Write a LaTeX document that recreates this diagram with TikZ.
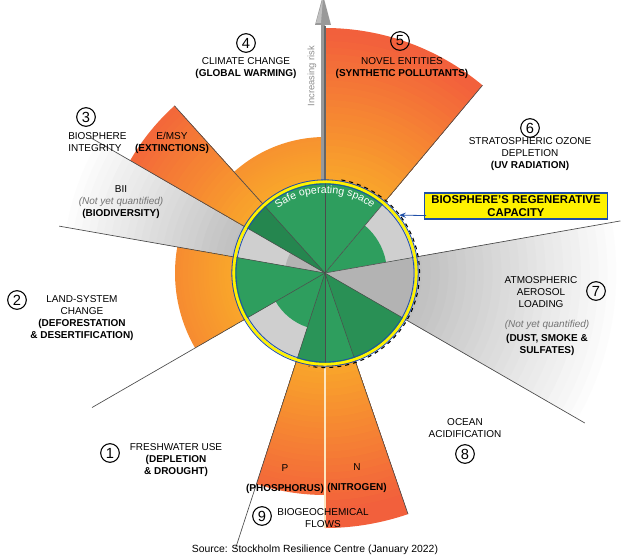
\documentclass[tikz,border=0pt]{standalone}
\usepackage{fontspec}
\setmainfont{Liberation Sans}
\usetikzlibrary{decorations.text,arrows.meta}
\definecolor{oA}{HTML}{F9A82A}
\definecolor{oB}{HTML}{F2603C}
\definecolor{gA}{HTML}{BDBDBD}
\definecolor{grn}{HTML}{2E9E5E}
\definecolor{dgrn}{HTML}{25864F}
\definecolor{lgr}{HTML}{CFCFCF}
\definecolor{mgr}{HTML}{B3B3B3}
\definecolor{bxb}{HTML}{1F4FA8}
\newcommand\orwedge[3]{% a b R
  \foreach \i in {0,...,24}{
    \pgfmathsetmacro\myR{#3-\i*(#3-88)/24}
    \pgfmathtruncatemacro\myT{min(100,max(0,(\myR-90)/150*100))}
    \colorlet{tmpc}{oB!\myT!oA}
    \fill[tmpc] (0,0) -- (#1:\myR) arc[start angle=#1,end angle=#2,radius=\myR] -- cycle;}}
\newcommand\grwedge[3]{%
  \foreach \i in {0,...,24}{
    \pgfmathsetmacro\myR{#3-\i*(#3-88)/24}
    \pgfmathtruncatemacro\myT{min(100,max(0,(\myR-90)/(#3-90)*100))}
    \colorlet{tmpc}{white!\myT!gA}
    \fill[tmpc] (0,0) -- (#1:\myR) arc[start angle=#1,end angle=#2,radius=\myR] -- cycle;}}
\newcommand\inwedge[4]{\fill[#4] (0,0) -- (#1:#3) arc[start angle=#1,end angle=#2,radius=#3] -- cycle;}
\tikzset{
  lab/.style={font=\fontsize{7.5}{9}\selectfont, align=center, inner sep=0pt},
  num/.style={circle, draw, thick, inner sep=0.6pt, minimum size=14pt, font=\fontsize{11}{11}\selectfont},
  sect/.style={draw=black!70, line width=0.5pt},
}
\begin{document}
\begin{tikzpicture}[x=0.75pt,y=0.75pt]
\useasboundingbox (0,0) rectangle (630,558);
\begin{scope}[shift={(325,285)}]
  \grwedge{330}{370}{300}
  \grwedge{150}{170}{270}
  \orwedge{50}{90}{245}
  \orwedge{90}{132}{136}
  \orwedge{132}{150}{225}
  \orwedge{252}{270}{222}
  \orwedge{270}{289}{255}
  \begin{scope}
    \clip (170:160) arc[start angle=170,end angle=210,radius=160] -- (210:88) arc[start angle=210,end angle=170,radius=88] -- cycle;
    \orwedge{170}{210}{150}
  \end{scope}
  \foreach \a/\r in {50/245,132/225,150/270,170/270,210/269,252/290,289/255,330/300,10/300}
    \draw[sect] (0,0) -- (\a:\r);
  \draw[white!70!oA, line width=0.8pt] (0,-90) -- (0,-255);
  \fill[black!40] (-4,0) -- (-4,248) -- (-10,248) -- (-2,278) -- (6,248) -- (0,248) -- (0,0) -- cycle;
  \fill[black!25] (-4,250) -- (-9,250) -- (-2,275) -- cycle;
  \draw[black!60, line width=1pt] (0,0) -- (0,247);
  \node[rotate=90, font=\fontsize{7}{8}\selectfont, text=black!45, inner sep=0pt] (ir) at (-13,197) {Increasing risk};
  \fill[grn] (0,0) circle (90);
  \inwedge{10}{50}{90}{lgr}
  \inwedge{10}{50}{62}{grn}
  \inwedge{330}{370}{90}{mgr}
  \inwedge{210}{252}{90}{lgr}
  \inwedge{210}{252}{57}{grn}
  \inwedge{150}{170}{90}{lgr}
  \inwedge{150}{170}{40}{mgr}
  \inwedge{132}{150}{90}{dgrn}
  \inwedge{90}{132}{90}{grn}
  \inwedge{289}{330}{90}{dgrn!60!grn}
  \inwedge{270}{289}{90}{grn}
  \inwedge{252}{270}{90}{dgrn!40!grn}
  \inwedge{170}{210}{90}{grn}
  \foreach \a in {10,50,90,132,150,170,210,252,270,289,330}
    \draw[black!70, line width=0.4pt] (0,0) -- (\a:90);
  \path[decorate, decoration={text along path, text align=center,
     text={|\fontsize{8}{8}\selectfont\color{white}|Safe operating space}}]
     (130:80) arc[start angle=130,end angle=50,radius=80];
  \draw[dashed, line width=0.8pt] (80:94.5) arc[start angle=80,end angle=-100,radius=94.5];
  \draw[bxb, line width=0.6pt] (0,0) circle (89);
  \draw[yellow, line width=2pt] (0,0) circle (91.3);
  \draw[bxb, line width=0.6pt] (0,0) circle (93.2);
  \coordinate (ring) at (38:94);
\end{scope}
\node[num] (n4) at (246,515) {4};
\node[lab] (t4) at (246,490) {CLIMATE CHANGE\\\textbf{(GLOBAL WARMING)}};
\node[num] (n5) at (400,517) {5};
\node[lab] (t5) at (402,490) {NOVEL ENTITIES\\\textbf{(SYNTHETIC POLLUTANTS)}};
\node[num] (n3) at (86,441) {3};
\node[lab, align=left, anchor=west] (t3) at (68,416) {BIOSPHERE\\INTEGRITY};
\node[lab] (t3b) at (172,415) {E/MSY\\\textbf{(EXTINCTIONS)}};
\node[num] (n6) at (530,430) {6};
\node[lab] (t6) at (530,404) {STRATOSPHERIC OZONE\\DEPLETION\\\textbf{(UV RADIATION)}};
\node[lab] (bii) at (121,356) {BII\\\textit{\color{black!55}(Not yet quantified)}\\\textbf{(BIODIVERSITY)}};
\node[draw=bxb, fill=yellow, line width=0.8pt, font=\fontsize{8.5}{9.5}\selectfont\bfseries, align=center, minimum width=137pt, inner sep=2pt] (box) at (516,352) {BIOSPHERE'S REGENERATIVE\\CAPACITY};
\draw[-{Stealth[length=5pt]}, bxb, line width=0.6pt] ([shift={(2,4)}]box.south west) -- (ring);
\node[num] (n2) at (17,258) {2};
\node[lab] (t2) at (82,240) {LAND-SYSTEM\\CHANGE\\\textbf{(DEFORESTATION}\\\textbf{\& DESERTIFICATION)}};
\node[num] (n7) at (596,267) {7};
\node[lab] (t7) at (541,266) {ATMOSPHERIC\\AEROSOL\\LOADING};
\node[lab] (t7b) at (547,220) {\textit{\color{black!55}(Not yet quantified)}\\[2pt]\textbf{(DUST, SMOKE \&}\\\textbf{SULFATES)}};
\node[lab] (t8) at (465,130) {OCEAN\\ACIDIFICATION};
\node[num] (n8) at (465,104) {8};
\node[num] (n1) at (110,105) {1};
\node[lab] (t1) at (176,98) {FRESHWATER USE\\\textbf{(DEPLETION}\\\textbf{\& DROUGHT)}};
\node[lab] (tp) at (285,79) {P\\[6pt]\textbf{(PHOSPHORUS)}};
\node[lab] (tn) at (357,80) {N\\[6pt]\textbf{(NITROGEN)}};
\node[num] (n9) at (262,42) {9};
\node[lab] (t9) at (323,40) {BIOGEOCHEMICAL\\FLOWS};
\node[font=\fontsize{7.8}{9}\selectfont, inner sep=0pt] (src) at (315,8) {Source: Stockholm Resilience Centre (January 2022)};
\end{tikzpicture}
\end{document}
